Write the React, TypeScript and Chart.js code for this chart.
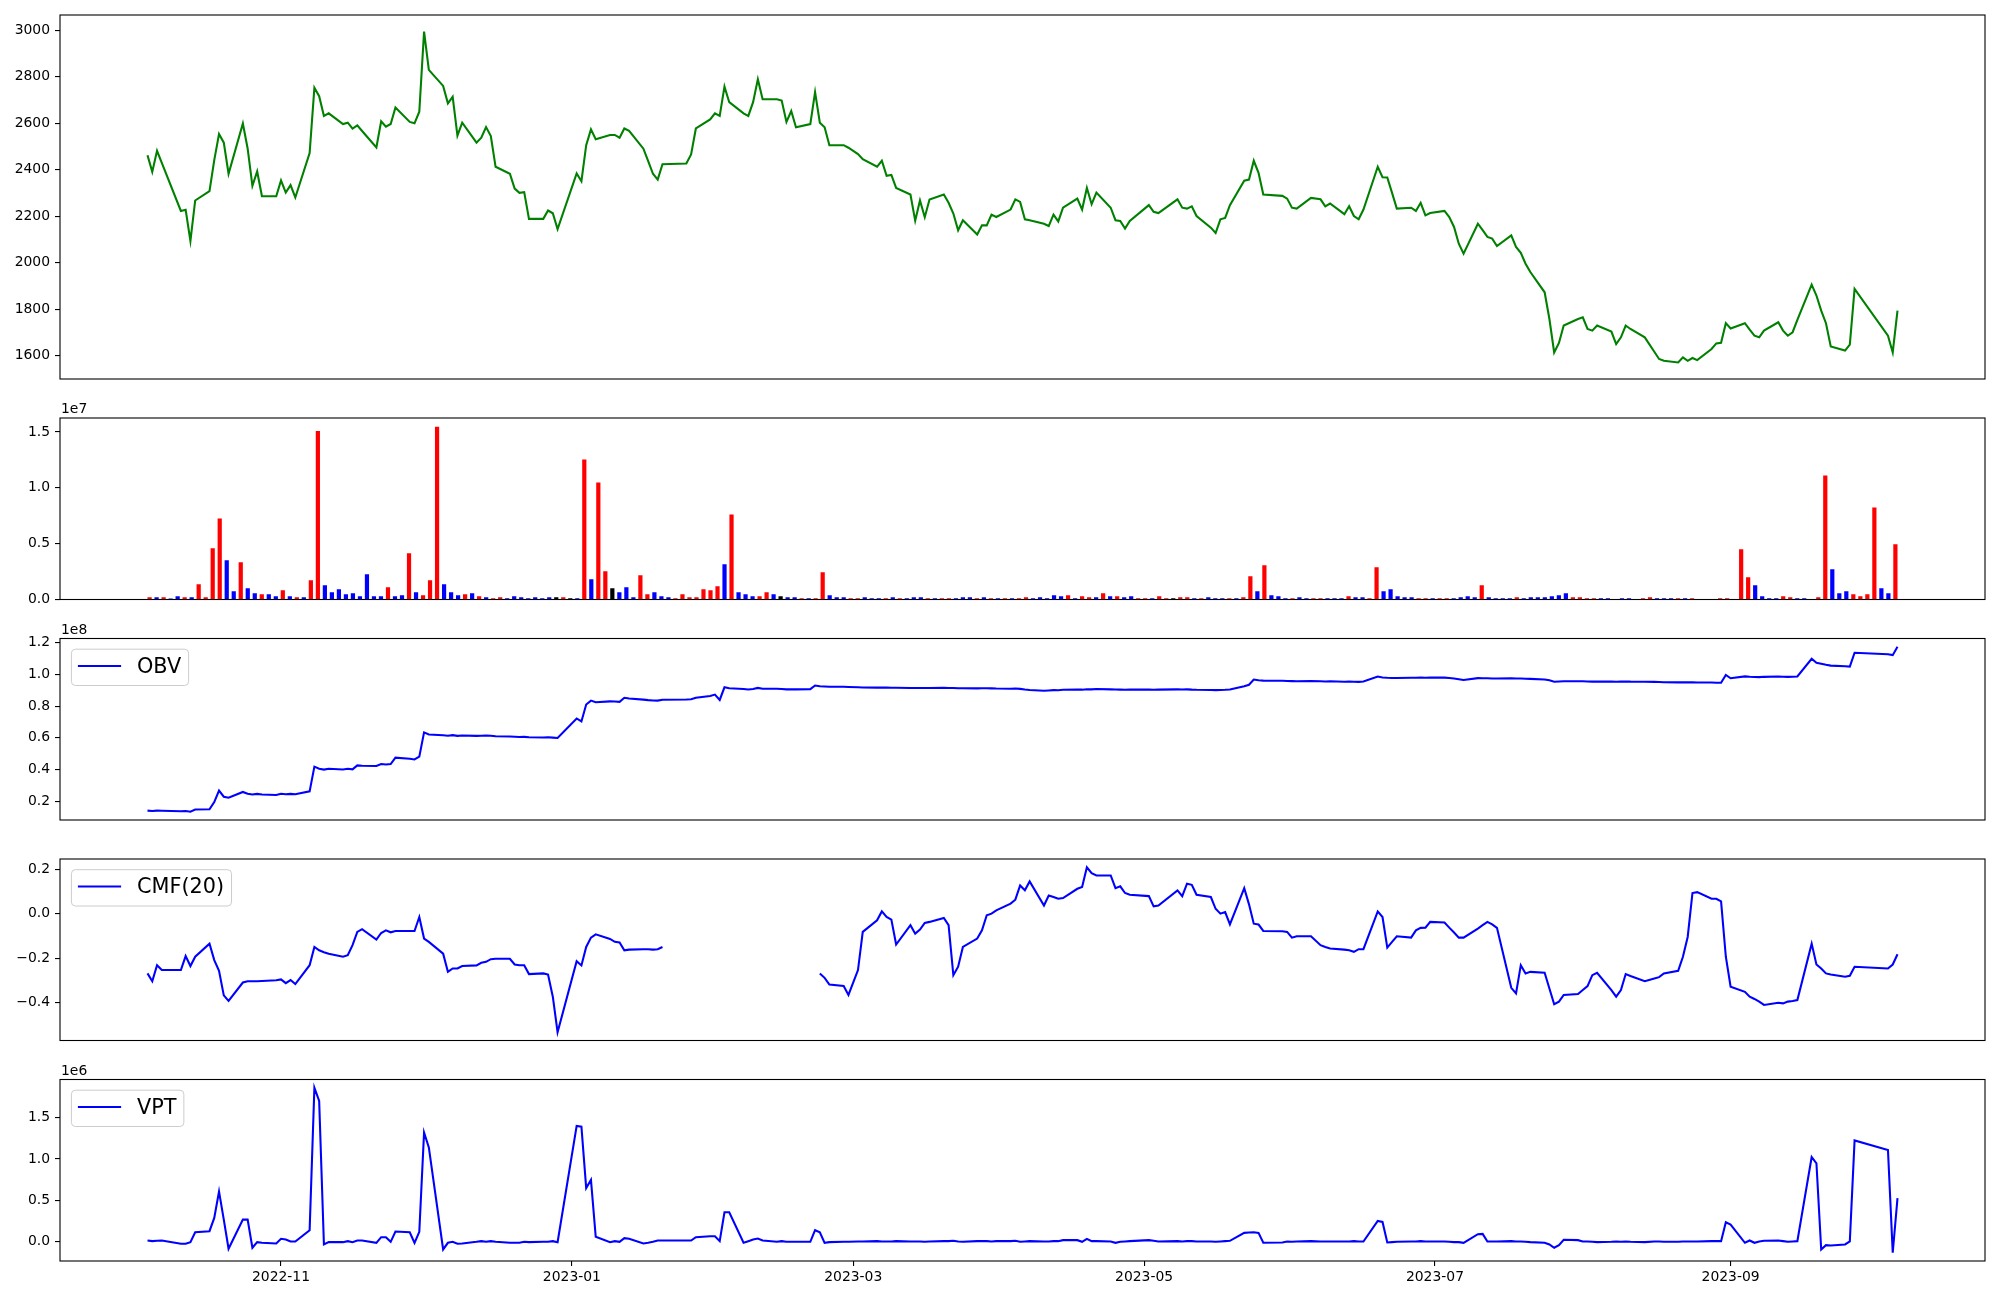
import React, { useEffect, useRef } from 'react';
import { Chart, registerables } from 'chart.js';

Chart.register(...registerables);

const FONT = "'DejaVu Sans', sans-serif";

// Trading days (categories), one string per month: "YYYY-MM:day,day,..."
const tradingMonths: string[] = [
  '2022-10:4,5,6,7,11,12,13,14,17,18,19,20,21,24,25,26,27,28,31',
  '2022-11:1,2,3,4,7,8,9,10,11,14,15,16,17,18,21,22,23,24,25,28,29,30',
  '2022-12:1,2,5,6,7,8,9,12,13,14,15,16,19,20,21,22,23,26,27,28,29',
  '2023-01:2,3,4,5,6,9,10,11,12,13,16,17,18,19,20,25,26,27,30,31',
  '2023-02:1,2,3,6,7,8,9,10,13,14,15,16,17,20,21,22,23,24,27,28',
  '2023-03:2,3,6,7,8,9,10,13,14,15,16,17,20,21,22,23,24,27,28,29,30,31',
  '2023-04:3,4,5,6,7,10,11,12,13,14,17,18,19,20,21,24,25,26,27,28',
  '2023-05:2,3,4,8,9,10,11,12,15,16,17,18,19,22,23,24,25,26,30,31',
  '2023-06:1,2,5,7,8,9,12,13,14,15,16,19,20,21,22,23,26,27,28,29,30',
  '2023-07:3,4,5,6,7,10,11,12,13,14,17,18,19,20,21,24,25,26,27,28,31',
  '2023-08:1,2,3,4,7,8,9,10,11,14,16,17,18,21,22,23,24,25,28,29,30,31',
  '2023-09:1,4,5,6,7,8,11,12,13,14,15,18,19,20,21,22,25,26,27',
  '2023-10:4,5,6',
];

const closePrice: number[] = [
  2463, 2391, 2482, 2430, 2223, 2228, 2094, 2268, 2308, 2442, 2554, 2517, 2383, 2599, 2492, 2331, 2393, 2286, 2286,
  2354, 2302, 2334, 2281, 2472, 2753, 2717, 2632, 2643, 2597, 2603, 2577, 2591, 2567, 2496, 2609, 2586, 2597, 2668, 2606, 2600, 2650,
  2995, 2830, 2761, 2686, 2714, 2547, 2603, 2517, 2538, 2584, 2545, 2413, 2383, 2319, 2301, 2304, 2189, 2189, 2225, 2213, 2145,
  2384, 2351, 2506, 2574, 2532, 2550, 2550, 2538, 2578, 2568, 2491, 2437, 2383, 2358, 2424, 2427, 2466, 2578, 2617, 2643,
  2632, 2758, 2691, 2643, 2632, 2691, 2790, 2704, 2704, 2698, 2606, 2653, 2583, 2597, 2734, 2603, 2583, 2506, 2506, 2495,
  2468, 2446, 2413, 2439, 2374, 2378, 2322, 2294, 2181, 2268, 2196, 2272, 2294, 2258, 2212, 2140, 2183, 2122, 2161, 2161, 2207, 2197,
  2229, 2273, 2262, 2187, 2183, 2168, 2158, 2207, 2178, 2237, 2276, 2229, 2322, 2252, 2302, 2237, 2183, 2180, 2147, 2180,
  2248, 2219, 2214, 2273, 2237, 2233, 2243, 2201, 2151, 2128, 2187, 2193, 2248, 2353, 2358, 2439, 2387, 2294, 2288, 2276,
  2237, 2233, 2279, 2273, 2243, 2255, 2209, 2243, 2201, 2187, 2229, 2413, 2368, 2367, 2301, 2233, 2237, 2223, 2258, 2204, 2214,
  2223, 2197, 2154, 2082, 2039, 2168, 2140, 2111, 2104, 2072, 2118, 2068, 2043, 1996, 1960, 1873, 1758, 1614, 1655, 1730, 1758,
  1765, 1715, 1708, 1730, 1704, 1650, 1679, 1730, 1715, 1679, 1617, 1586, 1578, 1571, 1593, 1578, 1590, 1581, 1629, 1653, 1656, 1740,
  1717, 1740, 1712, 1686, 1679, 1708, 1744, 1708, 1686, 1701, 1754, 1906, 1859, 1794, 1740, 1640, 1622, 1648, 1888,
  1686, 1614, 1794,
];

// Volume in millions of shares
const volumeM: number[] = [
  0.2, 0.2, 0.2, 0.1, 0.3, 0.2, 0.2, 1.37, 0.2, 4.58,
  7.26, 3.51, 0.74, 3.33, 1.01, 0.57, 0.48, 0.48, 0.3, 0.83,
  0.3, 0.2, 0.2, 1.73, 15.1, 1.28, 0.65, 0.92, 0.48, 0.57,
  0.3, 2.26, 0.3, 0.3, 1.1, 0.3, 0.39, 4.14, 0.65, 0.39,
  1.73, 15.48, 1.37, 0.65, 0.39, 0.48, 0.57, 0.3, 0.2, 0.12,
  0.2, 0.12, 0.3, 0.2, 0.12, 0.2, 0.12, 0.2, 0.2, 0.2,
  0.12, 0.12, 12.53, 1.82, 10.48, 2.53, 1.01, 0.65, 1.1, 0.2,
  2.17, 0.48, 0.65, 0.3, 0.2, 0.12, 0.48, 0.2, 0.2, 0.92,
  0.83, 1.19, 3.15, 7.62, 0.65, 0.48, 0.3, 0.3, 0.65, 0.48,
  0.3, 0.2, 0.2, 0.12, 0.12, 0.12, 2.44, 0.39, 0.2, 0.2,
  0.12, 0.12, 0.2, 0.12, 0.12, 0.12, 0.2, 0.12, 0.12, 0.2,
  0.2, 0.12, 0.12, 0.12, 0.12, 0.12, 0.2, 0.2, 0.12, 0.2,
  0.12, 0.12, 0.12, 0.12, 0.12, 0.2, 0.12, 0.2, 0.12, 0.39,
  0.3, 0.39, 0.12, 0.3, 0.2, 0.2, 0.57, 0.3, 0.3, 0.2,
  0.3, 0.12, 0.12, 0.12, 0.3, 0.12, 0.12, 0.2, 0.2, 0.12,
  0.12, 0.2, 0.12, 0.12, 0.12, 0.12, 0.2, 2.08, 0.74, 3.07,
  0.39, 0.3, 0.12, 0.12, 0.2, 0.12, 0.12, 0.12, 0.12, 0.12,
  0.12, 0.3, 0.2, 0.2, 0.12, 2.89, 0.74, 0.92, 0.3, 0.2,
  0.2, 0.12, 0.12, 0.12, 0.12, 0.12, 0.12, 0.2, 0.3, 0.2,
  1.28, 0.2, 0.12, 0.12, 0.12, 0.2, 0.12, 0.2, 0.2, 0.2,
  0.3, 0.39, 0.57, 0.2, 0.2, 0.12, 0.12, 0.12, 0.12, 0.03,
  0.12, 0.12, 0.03, 0.12, 0.2, 0.12, 0.12, 0.12, 0.12, 0.12,
  0.12, 0.03, 0.03, 0.03, 0.12, 0.12, 0.03, 4.49, 1.99, 1.28,
  0.3, 0.12, 0.12, 0.3, 0.2, 0.12, 0.12, 0.03, 0.2, 11.1,
  2.71, 0.57, 0.74, 0.48, 0.3, 0.48, 8.24, 1.01, 0.57, 4.94,
];

// Bar colour per day: r = up, b = down, k = unchanged
const volumeDir: string[] = (
  'rbrbbrbrrr' + 'rbbrbbrbbr' + 'brbrrbbbbb' + 'bbbbrbbrbr' + 'rrbbbrbrbr' +
  'rbbbbbbbkr' + 'kbrbrrkbbb' + 'rrbbbrrrrr' + 'rrbrbbbrrb' + 'kbbrbrrbbb' +
  'rrbbbrbrbb' + 'brbrrbbbrb' + 'rbrbrrbbbb' + 'brbrrbrbrb' + 'brrbrrkrrb' +
  'rbbbrbrrbr' + 'bbbrbbrrbb' + 'brbbrrbbbb' + 'brrbrrbbbb' + 'rbbbbrbbbb' +
  'bbbrrrrbbb' + 'bbrrrbbbrb' + 'rbbrrrrrrb' + 'bbbrrbbrrr' + 'bbbrrrrbbr'
).split('');

// On-balance volume, units of 1e8
const obvE8: number[] = [
  0.140, 0.138, 0.140, 0.139, 0.136, 0.138, 0.133, 0.147, 0.149, 0.194, 0.267, 0.228, 0.222, 0.258, 0.247, 0.242, 0.246, 0.242, 0.239,
  0.247, 0.244, 0.246, 0.244, 0.262, 0.418, 0.405, 0.399, 0.405, 0.400, 0.404, 0.401, 0.426, 0.424, 0.422, 0.434, 0.431, 0.434, 0.475, 0.468, 0.463, 0.481,
  0.634, 0.621, 0.616, 0.613, 0.617, 0.612, 0.614, 0.612, 0.613, 0.614, 0.613, 0.610, 0.608, 0.607, 0.605, 0.606, 0.603, 0.602, 0.603, 0.601, 0.599,
  0.722, 0.703, 0.810, 0.835, 0.825, 0.830, 0.829, 0.827, 0.853, 0.848, 0.841, 0.838, 0.836, 0.835, 0.840, 0.842, 0.844, 0.853, 0.864, 0.873,
  0.839, 0.919, 0.913, 0.908, 0.905, 0.908, 0.915, 0.910, 0.910, 0.908, 0.906, 0.907, 0.906, 0.907, 0.930, 0.926, 0.924, 0.922, 0.922, 0.921,
  0.919, 0.918, 0.917, 0.918, 0.917, 0.916, 0.916, 0.915, 0.914, 0.915, 0.914, 0.915, 0.916, 0.915, 0.914, 0.913, 0.913, 0.912, 0.913, 0.913, 0.912, 0.911,
  0.910, 0.911, 0.909, 0.905, 0.902, 0.897, 0.899, 0.901, 0.900, 0.903, 0.905, 0.904, 0.907, 0.906, 0.908, 0.906, 0.905, 0.904, 0.903, 0.904,
  0.904, 0.903, 0.904, 0.906, 0.905, 0.906, 0.904, 0.903, 0.902, 0.901, 0.902, 0.903, 0.905, 0.926, 0.935, 0.968, 0.964, 0.961, 0.960, 0.959,
  0.958, 0.957, 0.958, 0.957, 0.956, 0.957, 0.954, 0.955, 0.954, 0.953, 0.955, 0.987, 0.981, 0.979, 0.978, 0.978, 0.979, 0.979, 0.980, 0.979, 0.980,
  0.980, 0.978, 0.975, 0.970, 0.965, 0.977, 0.976, 0.976, 0.975, 0.975, 0.976, 0.975, 0.974, 0.973, 0.972, 0.968, 0.963, 0.954, 0.956, 0.957, 0.957,
  0.957, 0.956, 0.955, 0.956, 0.955, 0.954, 0.955, 0.956, 0.955, 0.954, 0.953, 0.952, 0.951, 0.950, 0.951, 0.950, 0.950, 0.949, 0.949, 0.948, 0.948, 0.997,
  0.976, 0.988, 0.985, 0.984, 0.983, 0.985, 0.987, 0.986, 0.985, 0.986, 0.987, 1.099, 1.074, 1.068, 1.061, 1.056, 1.052, 1.050, 1.137,
  1.128, 1.122, 1.175,
];

// Chaikin money flow (20); null where undefined
const cmf20: (number | null)[] = [
  -0.269, -0.304, -0.232, -0.254, -0.254, -0.191, -0.236, -0.194, -0.135, -0.209, -0.257, -0.368, -0.393, -0.310, -0.304, -0.304, -0.304, -0.303, -0.300,
  -0.296, -0.313, -0.299, -0.317, -0.232, -0.150, -0.165, -0.174, -0.181, -0.194, -0.187, -0.142, -0.082, -0.070, -0.117, -0.087, -0.075, -0.084, -0.078, -0.078, -0.078, -0.015,
  -0.112, -0.127, -0.180, -0.262, -0.247, -0.247, -0.236, -0.233, -0.221, -0.217, -0.205, -0.203, -0.203, -0.229, -0.232, -0.232, -0.272, -0.269, -0.274, -0.374, -0.534,
  -0.214, -0.233, -0.150, -0.108, -0.093, -0.114, -0.127, -0.130, -0.165, -0.162, -0.160, -0.160, -0.162, -0.160, -0.150, null, null, null, null, null,
  null, null, null, null, null, null, null, null, null, null, null, null, null, null, null, -0.269, -0.289, -0.319, -0.326, -0.366,
  -0.254, -0.082, -0.030, 0.010, -0.015, -0.027, -0.139, -0.052, -0.090, -0.072, -0.042, -0.037, -0.019, -0.052, -0.277, -0.239, -0.150, -0.112, -0.075, -0.007, 0.0, 0.015,
  0.045, 0.063, 0.127, 0.105, 0.145, 0.037, 0.082, 0.075, 0.067, 0.070, 0.112, 0.120, 0.209, 0.182, 0.172, 0.172, 0.115, 0.123, 0.093, 0.085,
  0.079, 0.033, 0.037, 0.105, 0.079, 0.135, 0.130, 0.085, 0.075, 0.022, 0.0, 0.007, -0.048, 0.115, 0.042, -0.045, -0.049, -0.078, -0.079, -0.082,
  -0.108, -0.102, -0.102, -0.142, -0.150, -0.157, -0.162, -0.165, -0.172, -0.160, -0.160, 0.010, -0.015, -0.153, -0.127, -0.102, -0.108, -0.075, -0.064, -0.063, -0.037,
  -0.040, -0.063, -0.085, -0.108, -0.108, -0.067, -0.052, -0.037, -0.048, -0.064, -0.334, -0.359, -0.232, -0.269, -0.262, -0.266, -0.337, -0.408, -0.396, -0.366, -0.362,
  -0.344, -0.326, -0.277, -0.266, -0.344, -0.374, -0.344, -0.272, -0.281, -0.304, -0.292, -0.286, -0.269, -0.257, -0.194, -0.105, 0.093, 0.097, 0.067, 0.067, 0.055, -0.194,
  -0.329, -0.352, -0.374, -0.384, -0.396, -0.411, -0.401, -0.404, -0.396, -0.393, -0.389, -0.135, -0.229, -0.247, -0.269, -0.274, -0.284, -0.280, -0.239,
  -0.247, -0.229, -0.183,
];

// Volume price trend, units of 1e6
const vptE6: number[] = [
  0.016, 0.008, 0.012, 0.016, -0.024, -0.024, -0.004, 0.116, 0.128, 0.288, 0.608, 0.268, -0.084, 0.268, 0.268, -0.072, -0.004, -0.012, -0.020,
  0.036, 0.028, 0.004, 0.004, 0.140, 1.860, 1.700, -0.032, -0.004, -0.004, 0.008, -0.004, 0.016, 0.016, -0.012, 0.056, 0.056, 0.0, 0.124, 0.116, -0.012, 0.120,
  1.320, 1.140, -0.092, -0.012, 0.0, -0.024, -0.020, 0.0, 0.008, 0.0, 0.008, 0.0, -0.012, -0.012, -0.012, 0.0, -0.004, 0.0, 0.0, 0.008, -0.004,
  1.400, 1.390, 0.648, 0.748, 0.060, -0.004, 0.008, 0.0, 0.044, 0.036, -0.020, -0.012, 0.0, 0.016, 0.016, 0.016, 0.016, 0.056, 0.068, 0.068,
  0.008, 0.356, 0.356, -0.012, 0.008, 0.028, 0.040, 0.016, 0.0, 0.008, 0.0, 0.0, 0.0, 0.0, 0.140, 0.116, -0.012, -0.004, 0.0, 0.0,
  0.004, 0.004, 0.008, 0.004, 0.004, 0.004, 0.008, 0.004, 0.004, 0.004, 0.0, 0.004, 0.008, 0.008, 0.012, 0.004, 0.0, 0.008, 0.008, 0.008, 0.004, 0.008,
  0.008, 0.012, 0.0, 0.004, 0.008, 0.004, 0.004, 0.008, 0.008, 0.020, 0.020, 0.0, 0.036, 0.008, 0.008, 0.004, -0.012, 0.0, 0.004, 0.008,
  0.020, 0.012, 0.004, 0.008, 0.004, 0.008, 0.008, 0.004, 0.004, 0.0, 0.004, 0.008, 0.012, 0.108, 0.112, 0.116, 0.108, -0.012, -0.008, 0.004,
  0.0, 0.004, 0.008, 0.004, 0.004, 0.004, 0.004, 0.004, 0.008, 0.004, 0.004, 0.252, 0.240, -0.008, -0.004, 0.0, 0.004, 0.004, 0.008, 0.004, 0.004,
  0.004, 0.0, -0.004, -0.004, -0.012, 0.092, 0.096, 0.004, 0.004, 0.004, 0.008, 0.004, 0.004, 0.0, -0.004, -0.012, -0.032, -0.072, -0.040, 0.024, 0.020,
  0.004, 0.004, 0.0, -0.004, 0.0, 0.004, 0.0, 0.004, 0.0, -0.004, 0.004, 0.004, 0.0, 0.0, 0.004, 0.004, 0.004, 0.004, 0.008, 0.008, 0.008, 0.236,
  0.208, -0.012, 0.016, -0.012, 0.004, 0.012, 0.016, 0.008, 0.0, 0.004, 0.008, 1.024, 0.948, -0.092, -0.040, -0.044, -0.032, 0.004, 1.224,
  1.108, -0.132, 0.528,
];

const xTickLabels: string[] = ['2022-11', '2023-01', '2023-03', '2023-05', '2023-07', '2023-09'];
const priceTicks: number[] = [1600, 1800, 2000, 2200, 2400, 2600, 2800, 3000];
const volumeTicks: number[] = [0, 0.5, 1.0, 1.5]; // x 1e7
const obvTicks: number[] = [0.2, 0.4, 0.6, 0.8, 1.0, 1.2]; // x 1e8
const cmfTicks: number[] = [-0.4, -0.2, 0.0, 0.2];
const vptTicks: number[] = [0.0, 0.5, 1.0, 1.5]; // x 1e6

const DAY = 86400000;
function dayNum(y: number, m: number, d: number) {
  return Date.UTC(y, m - 1, d) / DAY;
}
const tradingDayNums: number[] = tradingMonths.flatMap((s) => {
  const [ym, days] = s.split(':');
  const [y, m] = ym.split('-').map(Number);
  return days.split(',').map((d) => dayNum(y, m, Number(d)));
});
const xTickValues = xTickLabels.map((l) => {
  const [y, m] = l.split('-').map(Number);
  return dayNum(y, m, 1);
});

function padRange(vals: number[], zeroFloor = false) {
  const lo = Math.min(...vals);
  const hi = Math.max(...vals);
  const r = hi - lo;
  return zeroFloor ? [0, hi * 1.05] : [lo - 0.05 * r, hi + 0.05 * r];
}

const CANVAS_W = 2000;
const CANVAS_H = 1300;
const PLOT_LEFT = 60;
const PLOT_RIGHT_PAD = 15;
// panel vertical extents [top, bottom]
const panels: [number, number][] = [
  [15, 379],
  [418, 599.5],
  [638.5, 820],
  [859, 1040.5],
  [1079.5, 1261],
];

const tickFont = { family: FONT, size: 13.9 };

function yScale(range: number[], ticks: number[], fmt: (v: number) => string) {
  return {
    type: 'linear',
    position: 'left',
    min: range[0],
    max: range[1],
    afterFit: (s: any) => {
      s.width = PLOT_LEFT;
    },
    afterBuildTicks: (s: any) => {
      s.ticks = ticks.map((v) => ({ value: v }));
    },
    grid: { drawOnChartArea: false, drawTicks: true, tickLength: 5, color: '#000', lineWidth: 1.1 },
    border: { display: false },
    ticks: { color: '#000', font: tickFont, padding: 5, callback: (v: any) => fmt(Number(v)) },
  };
}

function decorPlugin(offsetText: string | null, legendText: string | null) {
  return {
    id: 'decor',
    afterDraw(chart: any) {
      const { ctx, chartArea: a } = chart;
      ctx.save();
      ctx.strokeStyle = '#000';
      ctx.lineWidth = 1.1;
      ctx.strokeRect(a.left, a.top, a.right - a.left, a.bottom - a.top);
      if (offsetText) {
        ctx.font = `13.9px ${FONT}`;
        ctx.fillStyle = '#000';
        ctx.textAlign = 'left';
        ctx.textBaseline = 'alphabetic';
        ctx.fillText(offsetText, a.left + 1, a.top - 5);
      }
      if (legendText) {
        ctx.font = `20.8px ${FONT}`;
        const tw = ctx.measureText(legendText).width;
        const x = a.left + 11.4;
        const y = a.top + 10.7;
        const w = 73 + tw;
        const h = 36.3;
        ctx.beginPath();
        ctx.roundRect(x, y, w, h, 4);
        ctx.fillStyle = 'rgba(255,255,255,0.8)';
        ctx.fill();
        ctx.strokeStyle = '#cccccc';
        ctx.lineWidth = 1;
        ctx.stroke();
        ctx.beginPath();
        ctx.moveTo(x + 6.5, y + h / 2 - 1.4);
        ctx.lineTo(x + 49.7, y + h / 2 - 1.4);
        ctx.strokeStyle = '#0000ff';
        ctx.lineWidth = 2.08;
        ctx.stroke();
        ctx.fillStyle = '#000';
        ctx.textAlign = 'left';
        ctx.textBaseline = 'middle';
        ctx.fillText(legendText, x + 65.6, y + h / 2);
      }
      ctx.restore();
    },
  };
}

function basePlugins() {
  return { legend: { display: false }, tooltip: { enabled: false } };
}

export default function App() {
  const r0 = useRef<HTMLCanvasElement>(null);
  const r1 = useRef<HTMLCanvasElement>(null);
  const r2 = useRef<HTMLCanvasElement>(null);
  const r3 = useRef<HTMLCanvasElement>(null);
  const r4 = useRef<HTMLCanvasElement>(null);
  const refs = [r0, r1, r2, r3, r4];

  useEffect(() => {
    Chart.defaults.font.family = FONT;
    const first = tradingDayNums[0];
    const last = tradingDayNums[tradingDayNums.length - 1];
    const span = last - first;
    const xMin = first - 0.05 * span;
    const xMax = last + 0.05 * span;

    const pad = (i: number, extraBottom = 0) => ({
      left: 0,
      right: PLOT_RIGHT_PAD,
      top: panels[i][0],
      bottom: CANVAS_H - panels[i][1] - extraBottom,
    });

    const hiddenX = { type: 'linear', display: false, min: xMin, max: xMax };

    const lineDs = (vals: (number | null)[], color: string) => ({
      type: 'line',
      data: vals.map((v, i) => ({ x: tradingDayNums[i], y: v })),
      borderColor: color,
      borderWidth: 2.08,
      pointRadius: 0,
      tension: 0,
      fill: false,
      spanGaps: false,
    });

    const charts: Chart[] = [];

    // 1. Price
    charts.push(
      new Chart(r0.current as HTMLCanvasElement, {
        type: 'line',
        data: { datasets: [lineDs(closePrice, '#008000') as any] },
        options: {
          responsive: false,
          animation: false,
          devicePixelRatio: 1,
          layout: { padding: pad(0) },
          plugins: basePlugins() as any,
          scales: {
            x: hiddenX as any,
            y: yScale(padRange(closePrice), priceTicks, (v) => String(Math.round(v))) as any,
          },
        },
        plugins: [decorPlugin(null, null)],
      })
    );

    // 2. Volume bars (evenly spaced by trading-day index)
    const n = volumeM.length;
    const bw = 0.6;
    const vSpan = n - 1 + bw;
    const volRaw = volumeM.map((v) => v * 1e6);
    const colorMap: Record<string, string> = { r: '#ff0000', b: '#0000ff', k: '#000000' };
    charts.push(
      new Chart(r1.current as HTMLCanvasElement, {
        type: 'bar',
        data: {
          datasets: [
            {
              data: volRaw.map((v, i) => ({ x: i, y: v })),
              backgroundColor: volumeDir.map((c) => colorMap[c]),
              borderWidth: 0,
              barPercentage: bw,
              categoryPercentage: 1,
            } as any,
          ],
        },
        options: {
          responsive: false,
          animation: false,
          devicePixelRatio: 1,
          layout: { padding: pad(1) },
          plugins: basePlugins() as any,
          scales: {
            x: {
              type: 'linear',
              display: false,
              offset: false,
              min: -bw / 2 - 0.05 * vSpan,
              max: n - 1 + bw / 2 + 0.05 * vSpan,
            } as any,
            y: yScale(
              padRange(volRaw, true),
              volumeTicks.map((t) => t * 1e7),
              (v) => (v / 1e7).toFixed(1)
            ) as any,
          },
        },
        plugins: [decorPlugin('1e7', null)],
      })
    );

    // 3. OBV
    const obvRaw = obvE8.map((v) => v * 1e8);
    charts.push(
      new Chart(r2.current as HTMLCanvasElement, {
        type: 'line',
        data: { datasets: [lineDs(obvRaw, '#0000ff') as any] },
        options: {
          responsive: false,
          animation: false,
          devicePixelRatio: 1,
          layout: { padding: pad(2) },
          plugins: basePlugins() as any,
          scales: {
            x: hiddenX as any,
            y: yScale(padRange(obvRaw), obvTicks.map((t) => t * 1e8), (v) => (v / 1e8).toFixed(1)) as any,
          },
        },
        plugins: [decorPlugin('1e8', 'OBV')],
      })
    );

    // 4. CMF
    const cmfVals = cmf20.filter((v) => v !== null) as number[];
    charts.push(
      new Chart(r3.current as HTMLCanvasElement, {
        type: 'line',
        data: { datasets: [lineDs(cmf20, '#0000ff') as any] },
        options: {
          responsive: false,
          animation: false,
          devicePixelRatio: 1,
          layout: { padding: pad(3) },
          plugins: basePlugins() as any,
          scales: {
            x: hiddenX as any,
            y: yScale(padRange(cmfVals), cmfTicks, (v) => {
              const s = Math.abs(v).toFixed(1);
              return v < -1e-9 ? '\u2212' + s : s;
            }) as any,
          },
        },
        plugins: [decorPlugin(null, 'CMF(20)')],
      })
    );

    // 5. VPT with date axis
    const vptRaw = vptE6.map((v) => v * 1e6);
    const axisH = 30;
    charts.push(
      new Chart(r4.current as HTMLCanvasElement, {
        type: 'line',
        data: { datasets: [lineDs(vptRaw, '#0000ff') as any] },
        options: {
          responsive: false,
          animation: false,
          devicePixelRatio: 1,
          layout: { padding: pad(4, axisH) },
          plugins: basePlugins() as any,
          scales: {
            x: {
              type: 'linear',
              min: xMin,
              max: xMax,
              afterFit: (s: any) => {
                s.height = axisH;
              },
              afterBuildTicks: (s: any) => {
                s.ticks = xTickValues.map((v) => ({ value: v }));
              },
              grid: { drawOnChartArea: false, drawTicks: true, tickLength: 5, color: '#000', lineWidth: 1.1 },
              border: { display: false },
              ticks: {
                color: '#000',
                font: tickFont,
                padding: 3,
                autoSkip: false,
                minRotation: 0,
                maxRotation: 0,
                callback: (_v: any, i: number) => xTickLabels[i],
              },
            } as any,
            y: yScale(padRange(vptRaw), vptTicks.map((t) => t * 1e6), (v) => (v / 1e6).toFixed(1)) as any,
          },
        },
        plugins: [decorPlugin('1e6', 'VPT')],
      })
    );

    return () => {
      charts.forEach((c) => c.destroy());
    };
  }, []);

  return (
    <div
      style={{
        position: 'absolute',
        left: 0,
        top: 0,
        width: CANVAS_W,
        height: CANVAS_H,
        background: '#ffffff',
        overflow: 'hidden',
      }}
    >
      {refs.map((r, i) => (
        <canvas
          key={i}
          ref={r}
          width={CANVAS_W}
          height={CANVAS_H}
          style={{ position: 'absolute', left: 0, top: 0, width: CANVAS_W, height: CANVAS_H }}
        />
      ))}
    </div>
  );
}
